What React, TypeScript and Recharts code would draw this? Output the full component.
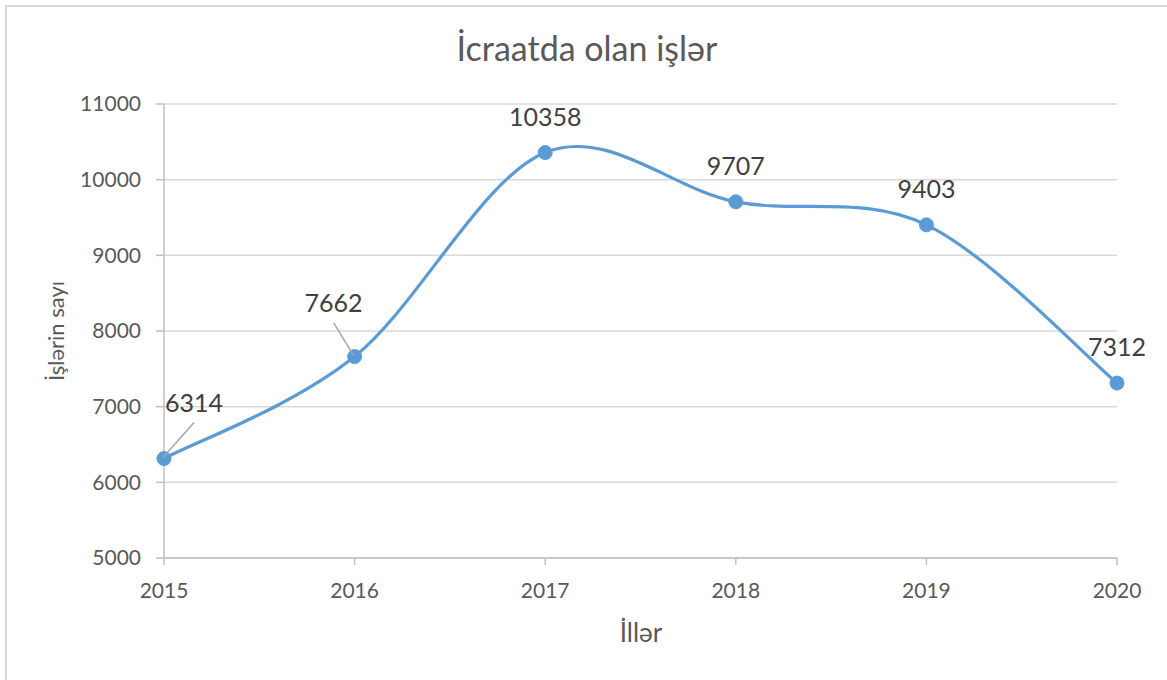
import { LineChart, Line, XAxis, YAxis, CartesianGrid, LabelList } from "recharts";

const years = ["2015", "2016", "2017", "2018", "2019", "2020"];
const cases = [6314, 7662, 10358, 9707, 9403, 7312];
const yTicks = [5000, 6000, 7000, 8000, 9000, 10000, 11000];

const chartData = years.map((year, i) => ({ year, cases: cases[i] }));

const FONT = "Lato, 'Open Sans', sans-serif";
const BLUE = "#5b9bd5";

// Excel-style smoothed line (cardinal spline, tension 0)
function excelSmooth(context: any) {
  let pts: number[][] = [];
  return {
    areaStart() {},
    areaEnd() {},
    lineStart() {
      pts = [];
    },
    point(x: number, y: number) {
      pts.push([+x, +y]);
    },
    lineEnd() {
      const n = pts.length;
      if (!n) return;
      context.moveTo(pts[0][0], pts[0][1]);
      for (let i = 0; i < n - 1; i++) {
        const p0 = pts[Math.max(0, i - 1)];
        const p1 = pts[i];
        const p2 = pts[i + 1];
        const p3 = pts[Math.min(n - 1, i + 2)];
        context.bezierCurveTo(
          p1[0] + (p2[0] - p0[0]) / 6,
          p1[1] + (p2[1] - p0[1]) / 6,
          p2[0] - (p3[0] - p1[0]) / 6,
          p2[1] - (p3[1] - p1[1]) / 6,
          p2[0],
          p2[1]
        );
      }
    },
  };
}

// first two labels sit off to the side with a leader line, like in Excel
function DataLabel(props: any) {
  const { x, y, value, index } = props;
  if (index === 0 || index === 1) {
    const dx = index === 0 ? 30 : -21;
    const dy = index === 0 ? -47 : -45;
    return (
      <g>
        <line x1={x + dx} y1={y + dy + 11} x2={x - 1} y2={y - 1} stroke="#a6a6a6" strokeWidth={1.5} />
        <text x={x + dx} y={y + dy} textAnchor="middle" fill="#404040" fontSize={25} fontFamily={FONT}>
          {value}
        </text>
      </g>
    );
  }
  return (
    <text x={x} y={y - 27} textAnchor="middle" fill="#404040" fontSize={25} fontFamily={FONT}>
      {value}
    </text>
  );
}

export default function App() {
  return (
    <div
      style={{
        position: "absolute",
        left: 5,
        top: 5,
        width: 1160,
        height: 673,
        borderTop: "2px solid #d9d9d9",
        borderLeft: "2px solid #d9d9d9",
        background: "#fff",
        fontFamily: FONT,
        color: "#595959",
      }}
    >
      <div
        style={{
          position: "absolute",
          left: 0,
          width: 1160,
          top: 24,
          textAlign: "center",
          fontSize: 34,
          lineHeight: 1,
        }}
      >
        İcraatda olan işlər
      </div>
      <LineChart width={1160} height={673} data={chartData} margin={{ top: 97, right: 50, bottom: 82, left: 97 }}>
        <CartesianGrid vertical={false} stroke="#d9d9d9" strokeWidth={1.5} />
        <XAxis
          dataKey="year"
          scale="point"
          padding={{ left: 0, right: 0 }}
          height={40}
          stroke="#bfbfbf"
          strokeWidth={1.5}
          tickSize={7}
          tickMargin={18}
          tick={{ fill: "#595959", fontSize: 21, fontFamily: FONT }}
        />
        <YAxis
          domain={[5000, 11000]}
          ticks={yTicks}
          width={60}
          stroke="#bfbfbf"
          strokeWidth={1.5}
          tickSize={8}
          tickMargin={15}
          tick={{ fill: "#595959", fontSize: 21, fontFamily: FONT }}
        />
        <Line
          dataKey="cases"
          type={excelSmooth as any}
          stroke={BLUE}
          strokeWidth={3.2}
          dot={{ r: 7, fill: BLUE, stroke: BLUE, strokeWidth: 1 }}
          activeDot={false}
          isAnimationActive={false}
        >
          <LabelList dataKey="cases" content={DataLabel} />
        </Line>
      </LineChart>
      <div
        style={{
          position: "absolute",
          left: 534,
          width: 200,
          top: 612,
          textAlign: "center",
          fontSize: 26,
          lineHeight: 1,
        }}
      >
        İllər
      </div>
      <div
        style={{
          position: "absolute",
          left: 49,
          top: 324,
          width: 200,
          textAlign: "center",
          fontSize: 22,
          lineHeight: 1,
          whiteSpace: "nowrap",
          transform: "translate(-50%, -50%) rotate(-90deg)",
        }}
      >
        İşlərin sayı
      </div>
    </div>
  );
}
